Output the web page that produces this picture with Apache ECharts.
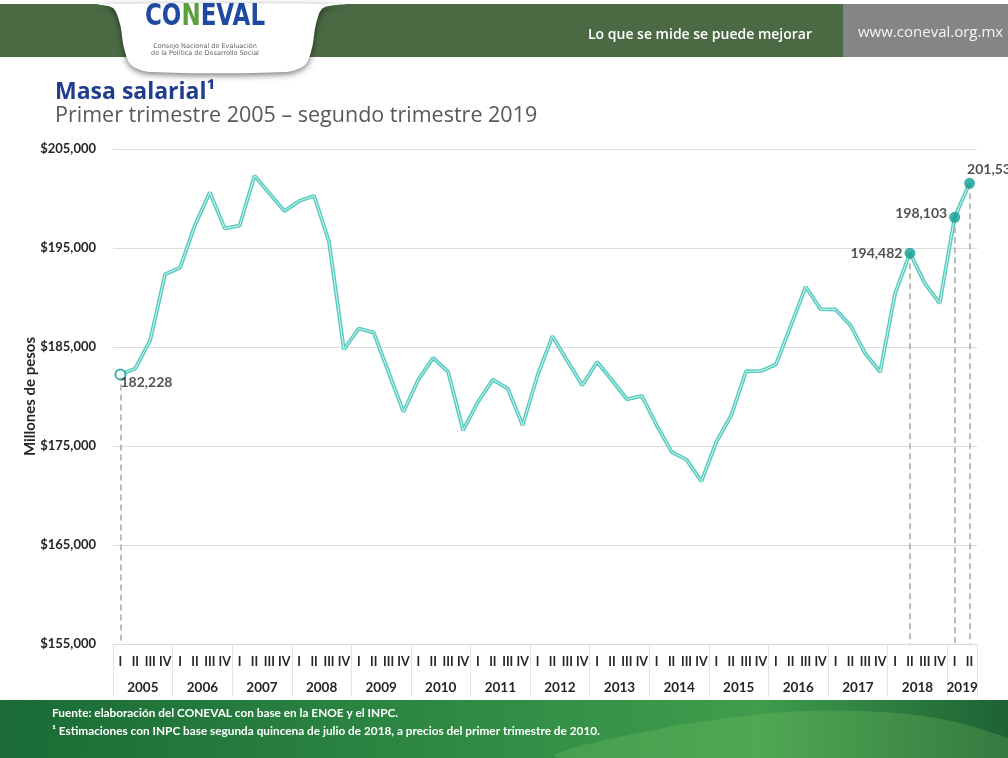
<!DOCTYPE html>
<html>
<head>
<meta charset="utf-8">
<title>Masa salarial</title>
<script src="https://cdn.jsdelivr.net/npm/echarts@6/dist/echarts.min.js"></script>
<style>
html,body{margin:0;padding:0;background:#fff;}
#grafica{width:1008px;height:758px;}
</style>
</head>
<body>
<div id="grafica"></div>
<script>
var anios = ['2005','2006','2007','2008','2009','2010','2011','2012','2013','2014','2015','2016','2017','2018','2019'];
var trimestres = ['I','II','III','IV'];
// millones de pesos, primer trimestre 2005 - segundo trimestre 2019
var masaSalarial = [
    182228, 182830, 185690, 192360,   //2005
    193000, 197300, 200620, 196980,   //2006
    197250, 202300, 200520, 198730,   //2007
    199740, 200280, 195630, 184750,   //2008
    186870, 186460, 182450, 178440,   //2009
    181710, 183900, 182480, 176590,   //2010
    179450, 181710, 180800, 177090,   //2011
    182150, 186090, 183600, 181140,   //2012
    183490, 181640, 179720, 180060,   //2013
    177090, 174400, 173620, 171430,   //2014
    175400, 178100, 182550, 182580,   //2015
    183230, 187140, 191080, 188820,   //2016
    188790, 187200, 184340, 182480,   //2017
    190400, 194482, 191420, 189400,   //2018
    198103, 201537                    //2019
];
var destacados = [0, 53, 56, 57];
var ejeMin = 155000, ejeMax = 205000, ejeIntervalo = 10000;

var fuente = 'Lato, "Open Sans", sans-serif';
var colorTexto = '#262626';
var colorPunto = '#129e94';

var categorias = [];
for (var i = 0; i < masaSalarial.length; i++) {
    categorias.push(anios[Math.floor(i / 4)] + '-' + trimestres[i % 4]);
}

function miles(v) {
    return String(v).replace(/\B(?=(\d{3})+(?!\d))/g, ',');
}

// el año se escribe en medio de sus trimestres
function etiquetaAnio(index) {
    var inicio = Math.floor(index / 4) * 4;
    var n = Math.min(4, masaSalarial.length - inicio);
    return index === inicio + Math.floor((n - 1) / 2);
}

var puntos = destacados.map(function (idx, k) {
    var label = {show: true, formatter: miles(masaSalarial[idx]), color: colorTexto,
        fontFamily: fuente, fontWeight: 'bold', fontSize: 14};
    var item = {value: [categorias[idx], masaSalarial[idx]], symbolSize: 11,
        itemStyle: {color: colorPunto}, label: label};
    if (k === 0) {
        item.symbolSize = 10;
        item.itemStyle = {color: '#fff', borderColor: colorPunto, borderWidth: 2};
        label.position = [6, 7];
    } else if (idx === masaSalarial.length - 1) {
        label.position = [3, -15];
    } else {
        label.position = 'left';
        label.distance = 2;
        if (idx === masaSalarial.length - 2) label.offset = [0, -4];
    }
    return item;
});

var lineasGuia = destacados.map(function (idx) {
    return [{coord: [categorias[idx], masaSalarial[idx]]}, {coord: [categorias[idx], ejeMin]}];
});

var mychart = echarts.init(document.getElementById('grafica'));
var option = {
    backgroundColor: '#fff',
    animation: false,
    grid: {left: 113, right: 31, top: 149, bottom: 114, outerBoundsMode: 'none'},
    xAxis: [
        {
            type: 'category',
            data: categorias,
            boundaryGap: true,
            axisLine: {lineStyle: {color: '#d9d9d9', width: 1}},
            axisTick: {
                show: true, length: 53,
                interval: function (index) { return index % 4 === 0; },
                lineStyle: {color: '#e3e3e3', width: 1}
            },
            axisLabel: {
                interval: 0, margin: 11, color: colorTexto,
                fontFamily: fuente, fontWeight: 'bold', fontSize: 12.5,
                formatter: function (v) { return v.split('-')[1]; }
            },
            splitLine: {show: false}
        },
        {
            type: 'category',
            data: categorias,
            position: 'bottom',
            offset: 27,
            axisLine: {show: false},
            axisTick: {show: false},
            axisLabel: {
                interval: function (index) { return etiquetaAnio(index); },
                margin: 10, color: colorTexto, padding: [0, 0, 0, 15],
                fontFamily: fuente, fontWeight: 'bold', fontSize: 13.5,
                formatter: function (v) { return v.split('-')[0]; }
            }
        }
    ],
    yAxis: {
        type: 'value',
        min: ejeMin, max: ejeMax, interval: ejeIntervalo,
        name: 'Millones de pesos',
        nameLocation: 'middle',
        nameGap: 75,
        nameMoveOverlap: false,
        nameTextStyle: {color: colorTexto, fontFamily: fuente, fontWeight: 'bold', fontSize: 15},
        axisLine: {show: false},
        axisTick: {show: false},
        axisLabel: {
            margin: 17, color: colorTexto, fontFamily: fuente, fontWeight: 'bold', fontSize: 13,
            formatter: function (v) { return '$' + miles(v); }
        },
        splitLine: {lineStyle: {color: '#dcdcdc', width: 1}}
    },
    series: [
        {
            name: 'Masa salarial',
            type: 'line',
            data: masaSalarial,
            symbol: 'none',
            lineStyle: {color: '#58cbc0', width: 3.8},
            z: 2
        },
        {
            name: 'Masa salarial (centro)',
            type: 'line',
            data: masaSalarial,
            symbol: 'none',
            silent: true,
            lineStyle: {color: '#d4f4f0', width: 1},
            z: 3
        },
        {
            name: 'Destacados',
            type: 'scatter',
            data: puntos,
            z: 5,
            markLine: {
                silent: true,
                symbol: ['none', 'none'],
                label: {show: false},
                lineStyle: {color: '#a6a6a6', type: [6, 4], width: 1.5},
                data: lineasGuia
            }
        }
    ],
    graphic: [
        // encabezado
        {type: 'rect', shape: {x: 0, y: 4, width: 1008, height: 53}, style: {fill: '#4b6a44'}},
        {type: 'rect', shape: {x: 843, y: 4, width: 165, height: 53}, style: {fill: '#858585'}},
        {type: 'polygon', z: 10,
            shape: {smooth: 0.3, points: [[96, 4], [113, 8], [120, 24], [124, 48], [131, 65], [150, 72], [286, 72],
                [305, 65], [312, 48], [316, 24], [323, 8], [346, 4]]},
            style: {fill: '#fff', shadowBlur: 6, shadowColor: 'rgba(0,0,0,0.55)', shadowOffsetY: 2}},
        {type: 'text', z: 11, x: 205, y: 24, scaleY: 1.3, originX: 205, originY: 24,
            style: {text: '{b|CO}{g|N}{b|EVAL}', textAlign: 'center', textVerticalAlign: 'middle',
                rich: {b: {fill: '#1f4aa0', font: 'bold 23px "DejaVu Sans"'}, g: {fill: '#5aa03c', font: 'bold 23px "DejaVu Sans"'}}}},
        {type: 'text', z: 11, x: 205, y: 46, style: {text: 'Consejo Nacional de Evaluación', font: '6.5px "DejaVu Sans"', fill: '#666', textAlign: 'center', textVerticalAlign: 'middle'}},
        {type: 'text', z: 11, x: 205, y: 53, style: {text: 'de la Política de Desarrollo Social', font: '6.5px "DejaVu Sans"', fill: '#666', textAlign: 'center', textVerticalAlign: 'middle'}},
        {type: 'text', x: 588, y: 35, style: {text: 'Lo que se mide se puede mejorar', font: '600 14px "Open Sans"', fill: '#fff', textVerticalAlign: 'middle'}},
        {type: 'text', x: 858, y: 33, style: {text: 'www.coneval.org.mx', font: '15px "Open Sans"', fill: '#f4f4f4', textVerticalAlign: 'middle'}},
        // titulo
        {type: 'text', x: 55, y: 92, style: {text: 'Masa salarial¹', font: 'bold 23px "Open Sans"', fill: '#1f3c8f', textVerticalAlign: 'middle'}},
        {type: 'text', x: 55, y: 116, style: {text: 'Primer trimestre 2005 – segundo trimestre 2019', font: '21.5px "Open Sans"', fill: '#595959', textVerticalAlign: 'middle'}},
        // pie
        {type: 'rect', shape: {x: 0, y: 700, width: 1008, height: 58},
            style: {fill: new echarts.graphic.LinearGradient(0, 0, 1, 0, [
                {offset: 0, color: '#1a6b36'}, {offset: 0.45, color: '#2f8a43'},
                {offset: 0.75, color: '#3f9d4c'}, {offset: 1, color: '#1d6234'}])}},
        {type: 'polygon',
            shape: {smooth: 0.4, points: [[560, 758], [700, 722], [880, 712], [1008, 738], [1008, 758]]},
            style: {fill: 'rgba(140,210,110,0.22)'}},
        {type: 'text', x: 52, y: 713, style: {text: 'Fuente: elaboración del CONEVAL con base en la ENOE y el INPC.', font: 'bold 11.8px Lato', fill: '#fff', textVerticalAlign: 'middle'}},
        {type: 'text', x: 52, y: 731, style: {text: '¹ Estimaciones con INPC base segunda quincena de julio de 2018, a precios del primer trimestre de 2010.', font: 'bold 11.8px Lato', fill: '#fff', textVerticalAlign: 'middle'}}
    ]
};
mychart.setOption(option);
</script>
</body>
</html>
